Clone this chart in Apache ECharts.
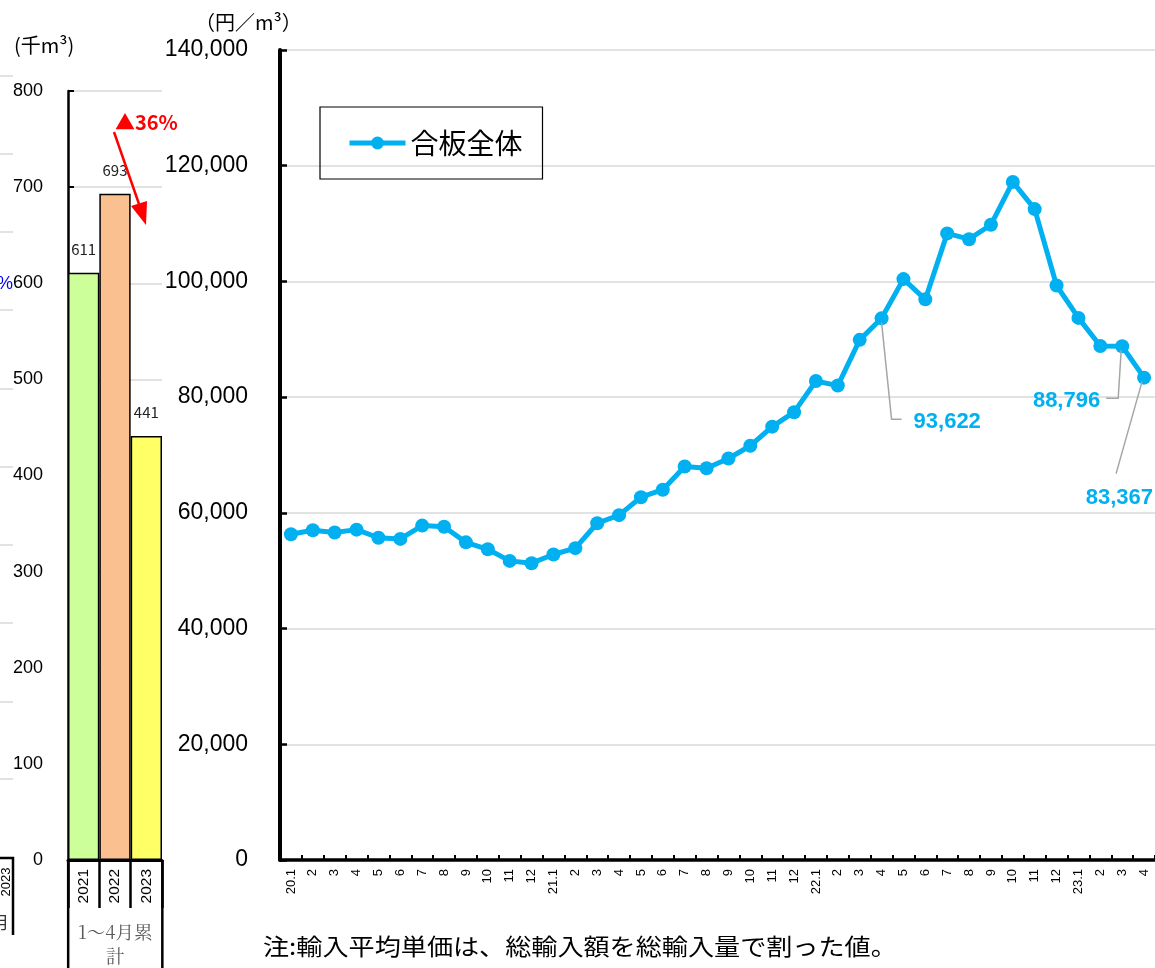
<!DOCTYPE html>
<html><head><meta charset="utf-8">
<script src="https://cdn.jsdelivr.net/npm/echarts@6/dist/echarts.min.js"></script>
<style>html,body{margin:0;padding:0;background:#fff;overflow:hidden}#c{width:1155px;height:968px}</style>
</head><body><div id="c"></div>
<script>
// ---- data ----
const monthLabels = ['20.1','2','3','4','5','6','7','8','9','10','11','12',
  '21.1','2','3','4','5','6','7','8','9','10','11','12',
  '22.1','2','3','4','5','6','7','8','9','10','11','12',
  '23.1','2','3','4'];
const unitPrice = [56300,57000,56600,57100,55700,55500,57800,57600,54900,53700,51700,51300,
  52800,53900,58200,59600,62700,64000,68000,67700,69400,71600,74900,77400,
  82800,82000,89900,93622,100400,96900,108300,107300,109800,117200,112500,99300,
  93700,88850,88796,83367];
const seriesName = '合板全体';
const barCategories = ['2021','2022','2023'];
const barValues = [611,693,441];
const barColors = ['#CCFF99','#FAC090','#FFFF66'];
const barGroupLabel = ['1～4月累', '計'];
const changeLabel = '▲36%';
const priceTicks = [0,20000,40000,60000,80000,100000,120000,140000];
const volTicks = [0,100,200,300,400,500,600,700,800];
const calloutIdx = [27,38,39];
const note = '注:輸入平均単価は、総輸入額を総輸入量で割った値。';

const CYAN = '#00B0F0';
const SANS = '"Liberation Sans", Arial, sans-serif';
const JP = '"Noto Sans CJK JP", sans-serif';

const chart = echarts.init(document.getElementById('c'));
const option = {
  animation: false,
  backgroundColor: '#fff',
  grid: [
    {left: 68, top: 91, width: 94, height: 769},
    {left: 280, top: 50, width: 880, height: 810}
  ],
  legend: {
    data: [seriesName],
    left: 320, top: 107,
    orient: 'horizontal',
    borderColor: '#000', borderWidth: 1.2,
    padding: [22, 20, 22, 27],
    itemWidth: 56, itemHeight: 16, itemGap: 6,
    lineStyle: {width: 5},
    textStyle: {fontFamily: JP, fontSize: 28, color: '#000'}
  },
  xAxis: [
    {
      gridIndex: 0, type: 'category', data: barCategories,
      axisLine: {lineStyle: {color: '#000', width: 3}},
      axisTick: {show: true, interval: 0, length: 48, lineStyle: {color: '#000', width: 2.5}},
      axisLabel: {rotate: 90, margin: 9, fontFamily: SANS, fontSize: 15.5, color: '#000'}
    },
    {
      gridIndex: 1, type: 'category', data: monthLabels, boundaryGap: true,
      axisLine: {lineStyle: {color: '#000', width: 3.5}},
      axisTick: {show: true, inside: true, interval: 0, length: 5, lineStyle: {color: '#000', width: 2}},
      axisLabel: {rotate: 90, interval: 0, margin: 9, fontFamily: SANS, fontSize: 13, color: '#000'}
    }
  ],
  yAxis: [
    {
      gridIndex: 0, type: 'value', min: volTicks[0], max: volTicks[volTicks.length-1], interval: 100,
      axisLine: {show: true, lineStyle: {color: '#000', width: 2.5}},
      axisTick: {show: true, inside: true, length: 6, lineStyle: {color: '#000', width: 2}},
      axisLabel: {margin: 25, fontFamily: SANS, fontSize: 18, color: '#000'},
      splitLine: {show: true, lineStyle: {color: '#d9d9d9', width: 1.5}}
    },
    {
      gridIndex: 1, type: 'value', min: priceTicks[0], max: priceTicks[priceTicks.length-1], interval: 20000,
      axisLine: {show: true, lineStyle: {color: '#000', width: 4}},
      axisTick: {show: true, inside: true, length: 7, lineStyle: {color: '#000', width: 2.5}},
      axisLabel: {margin: 32, fontFamily: SANS, fontSize: 23, color: '#000',
        formatter: v => v.toLocaleString('en-US')},
      splitLine: {show: true, lineStyle: {color: '#d9d9d9', width: 1.5}}
    }
  ],
  series: [
    {
      type: 'bar', xAxisIndex: 0, yAxisIndex: 0,
      barWidth: '100%', barCategoryGap: '0%',
      data: barValues.map((v, i) => ({value: v, itemStyle: {color: barColors[i]}})),
      itemStyle: {borderColor: '#000', borderWidth: 1.5},
      label: {show: true, position: 'top', distance: 16, fontFamily: JP, fontSize: 15, color: '#222'}
    },
    {
      name: seriesName, type: 'line', xAxisIndex: 1, yAxisIndex: 1,
      data: unitPrice,
      color: CYAN,
      lineStyle: {width: 5, color: CYAN},
      symbol: 'circle', symbolSize: 14,
      itemStyle: {color: CYAN},
      z: 5
    }
  ]
};
chart.setOption(option);

// ---- annotations ----
const g = [];
const txt = (x, y, text, o, extra) => g.push(Object.assign({type: 'text', x, y, silent: true, z: 20,
  style: Object.assign({text, fill: '#000', fontFamily: JP, fontSize: 20}, o || {})}, extra || {}));
const line = (pts, color, w) => g.push({type: 'polyline', silent: true, z: 15,
  shape: {points: pts}, style: {stroke: color, lineWidth: w, fill: null}});

// unit labels
txt(195, 22, '（円／m³）', {fontSize: 20, textVerticalAlign: 'middle'});
txt(14, 45, '(千m³)', {fontSize: 20, textVerticalAlign: 'middle'});

// note
txt(263, 946, note, {fontSize: 23, textVerticalAlign: 'middle'}, {scaleX: 1.135});

// callouts
const p = calloutIdx.map(i => chart.convertToPixel({seriesIndex: 1}, [i, unitPrice[i]]));
const fmt = v => v.toLocaleString('en-US');
const cst = {fill: CYAN, fontFamily: SANS, fontWeight: 'bold', fontSize: 22, textVerticalAlign: 'middle'};
line([[p[0][0], p[0][1] + 4], [p[0][0] + 10, p[0][1] + 101], [p[0][0] + 20, p[0][1] + 101]], '#a6a6a6', 1.5);
txt(p[0][0] + 32, p[0][1] + 104, fmt(unitPrice[calloutIdx[0]]), cst);
line([[p[1][0] - 1, p[1][1] + 4], [p[1][0] - 4, p[1][1] + 52], [p[1][0] - 16, p[1][1] + 52]], '#a6a6a6', 1.5);
txt(p[1][0] - 22, p[1][1] + 55, fmt(unitPrice[calloutIdx[1]]), Object.assign({}, cst, {textAlign: 'right'}));
line([[p[2][0] - 2, p[2][1] + 4], [p[2][0] - 28, p[2][1] + 96]], '#a6a6a6', 1.5);
txt(p[2][0] + 9, p[2][1] + 120, fmt(unitPrice[calloutIdx[2]]), Object.assign({}, cst, {textAlign: 'right'}));

// bar chart change annotation
txt(115, 122, changeLabel, {fill: '#FF0000', fontFamily: JP, fontWeight: 'bold', fontSize: 20, textVerticalAlign: 'middle'});
line([[114, 132], [139, 204]], '#FF0000', 2.5);
g.push({type: 'polygon', silent: true, z: 16, shape: {points: [[146, 225], [131, 206], [147, 201]]}, style: {fill: '#FF0000'}});

// bar category group borders & label
const b0 = chart.convertToPixel({gridIndex: 0}, [0, 0]);
const b2 = chart.convertToPixel({gridIndex: 0}, [2, 0]);
const gl = b0[0] - 15.5, gr = b2[0] + 16;
line([[gl, 860], [gl, 968]], '#000', 2.5);
line([[gr, 860], [gr, 968]], '#000', 2.5);
const serif = '"Noto Serif CJK JP", "Noto Sans CJK JP", serif';
txt((gl + gr) / 2, 932, barGroupLabel[0], {fontSize: 18.5, fill: '#595959', textAlign: 'center', textVerticalAlign: 'middle', fontFamily: serif});
txt((gl + gr) / 2, 956, barGroupLabel[1], {fontSize: 18.5, fill: '#595959', textAlign: 'center', textVerticalAlign: 'middle', fontFamily: serif});

// fragments of the neighbouring (cropped) chart on the far left
[76, 154, 232, 310, 389, 467, 545, 623, 702, 779].forEach(y => line([[0, y], [13, y]], '#d9d9d9', 1.5));
txt(13, 284, '%', {fill: '#0000FF', fontFamily: SANS, fontSize: 18, textAlign: 'right', textVerticalAlign: 'middle'});
line([[0, 858], [13, 858], [13, 935]], '#000', 2.5);
g.push({type: 'text', x: 6, y: 882, rotation: Math.PI / 2, silent: true, z: 20,
  style: {text: '2023', fontFamily: SANS, fontSize: 13, fill: '#000', textAlign: 'center', textVerticalAlign: 'middle'}});
txt(-8, 923, '月', {fontSize: 17, textVerticalAlign: 'middle', fill: '#333'});

chart.setOption({graphic: g});
</script></body></html>
